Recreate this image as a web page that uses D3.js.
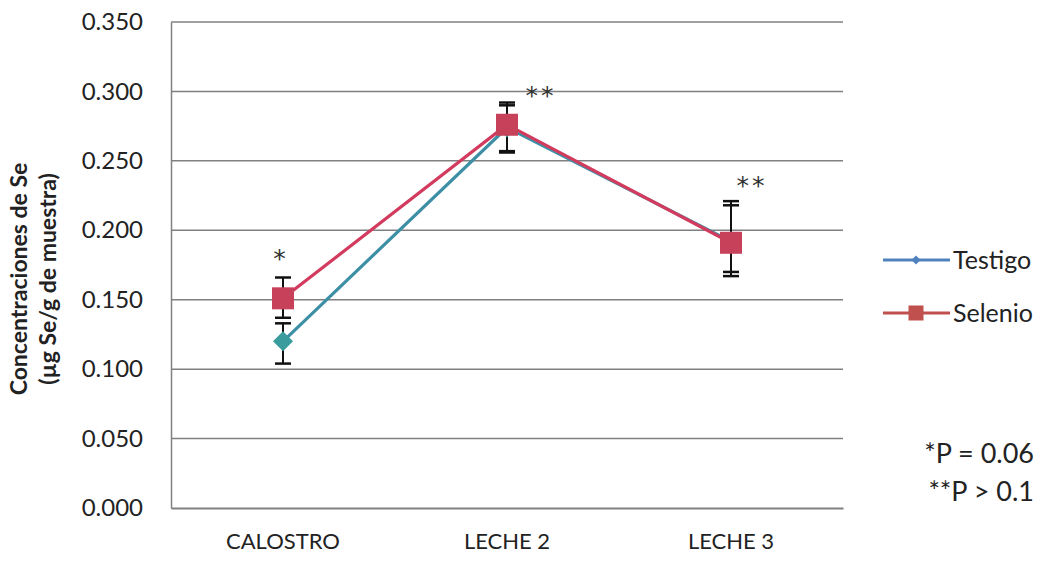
<!DOCTYPE html>
<html>
<head>
<meta charset="utf-8">
<script src="https://cdn.jsdelivr.net/npm/d3@7"></script>
<style>
  html, body { margin: 0; padding: 0; background: #fff; }
  svg { display: block; }
  text { font-family: Lato, "Open Sans", "Liberation Sans", sans-serif; fill: #222; }
</style>
</head>
<body>
<svg id="chart" width="1038" height="561"></svg>
<script>
// Selenium concentrations in milk samples (µg Se/g) by treatment group
const categories = ["CALOSTRO", "LECHE 2", "LECHE 3"];
const testigo = [0.120, 0.274, 0.192];
const testigoLow = [0.104, 0.257, 0.170];
const testigoHigh = [0.133, 0.290, 0.218];
const selenio = [0.151, 0.276, 0.191];
const selenioLow = [0.137, 0.256, 0.167];
const selenioHigh = [0.166, 0.292, 0.221];
const significance = ["*", "**", "**"];
const yTicks = [0, 0.05, 0.10, 0.15, 0.20, 0.25, 0.30, 0.35];
const legendLabels = ["Testigo", "Selenio"];
const notes = ["*P = 0.06", "**P > 0.1"];

const svg = d3.select("#chart");
const m = { left: 171, right: 843, top: 22, bottom: 508 };

const x = d3.scaleBand().domain(categories).range([m.left, m.right]);
const y = d3.scaleLinear().domain([0, 0.35]).range([m.bottom, m.top]);
const cx = d => x(d) + x.bandwidth() / 2;

// horizontal gridlines
svg.append("g")
  .selectAll("line").data(yTicks.filter(t => t > 0)).join("line")
  .attr("x1", m.left).attr("x2", m.right)
  .attr("y1", d => y(d)).attr("y2", d => y(d))
  .attr("stroke", "#808080").attr("stroke-width", 1.5);

// y axis
const yAxis = svg.append("g").attr("transform", `translate(${m.left},0)`)
  .call(d3.axisLeft(y).tickValues(yTicks).tickFormat(d3.format(".3f")).tickSize(0).tickPadding(28));
yAxis.select(".domain").attr("stroke", "#808080").attr("stroke-width", 1.5);
yAxis.selectAll("text").attr("font-size", 24).style("fill", "#222");

// x axis
const xAxis = svg.append("g").attr("transform", `translate(0,${m.bottom})`)
  .call(d3.axisBottom(x).tickSize(0).tickPadding(25));
xAxis.select(".domain").attr("stroke", "#808080").attr("stroke-width", 2);
xAxis.selectAll("text").attr("font-size", 22).style("fill", "#222");

// y axis title
const title = svg.append("text")
  .attr("transform", "translate(34,279) rotate(-90)")
  .attr("text-anchor", "middle")
  .attr("font-size", 23).attr("font-weight", "bold");
title.append("tspan").attr("x", 0).attr("dy", "-0.3em").text("Concentraciones de Se");
title.append("tspan").attr("x", 0).attr("dy", "1.25em").text("(µg Se/g de muestra)");

const series = [
  { name: legendLabels[0], values: testigo, low: testigoLow, high: testigoHigh, line: "#3d8fa6", marker: "#3a9c9c", legendLine: "#4f81bd", shape: "diamond" },
  { name: legendLabels[1], values: selenio, low: selenioLow, high: selenioHigh, line: "#d23b5e", marker: "#c8415a", legendLine: "#c0504d", shape: "square" }
];

const line = d3.line().x((d, i) => cx(categories[i])).y(d => y(d));

series.forEach(s => {
  svg.append("path").datum(s.values)
    .attr("d", line).attr("fill", "none")
    .attr("stroke", s.line).attr("stroke-width", 3.2);
});

// error bars
series.forEach(s => {
  const g = svg.append("g").attr("stroke", "#111").attr("stroke-width", 2);
  categories.forEach((c, i) => {
    const px = cx(c);
    g.append("line").attr("x1", px).attr("x2", px).attr("y1", y(s.low[i])).attr("y2", y(s.high[i]));
    [s.low[i], s.high[i]].forEach(v => {
      g.append("line").attr("x1", px - 8).attr("x2", px + 8).attr("y1", y(v)).attr("y2", y(v)).attr("stroke-width", 2.5);
    });
  });
});

function marker(g, shape, px, py, color, size) {
  if (shape === "square") {
    g.append("rect").attr("x", px - size / 2).attr("y", py - size / 2)
      .attr("width", size).attr("height", size).attr("fill", color);
  } else {
    const r = size / 2;
    g.append("path").attr("d", `M${px},${py - r}L${px + r},${py}L${px},${py + r}L${px - r},${py}Z`).attr("fill", color);
  }
}

series.forEach(s => {
  const g = svg.append("g");
  s.values.forEach((v, i) => marker(g, s.shape, cx(categories[i]), y(v), s.marker, s.shape === "square" ? 22 : 20));
});

// significance marks, placed above the highest error bar of each category
const sigOffset = [{ dx: -2, dy: -10 }, { dx: 34, dy: 1 }, { dx: 21, dy: -7 }];
svg.append("g").selectAll("text").data(significance).join("text")
  .attr("x", (d, i) => cx(categories[i]) + sigOffset[i].dx)
  .attr("y", (d, i) => y(Math.max(selenioHigh[i], testigoHigh[i])) + sigOffset[i].dy)
  .attr("text-anchor", "middle")
  .style("font-family", "'DejaVu Sans', sans-serif").style("fill", "#333")
  .attr("font-size", 25).attr("letter-spacing", 3)
  .text(d => d);

// legend
series.forEach((s, i) => {
  const ly = 260 + i * 53;
  svg.append("line").attr("x1", 883).attr("x2", 950).attr("y1", ly).attr("y2", ly)
    .attr("stroke", s.legendLine).attr("stroke-width", 3);
  const g = svg.append("g");
  marker(g, s.shape, 916, ly, s.legendLine, s.shape === "square" ? 15 : 9);
  svg.append("text").attr("x", 953).attr("y", ly + 9).attr("font-size", 25).text(s.name);
});

// p-value notes
svg.append("g").selectAll("text").data(notes).join("text")
  .attr("x", 1034).attr("y", (d, i) => 463 + i * 38)
  .attr("text-anchor", "end").attr("font-size", 27)
  .text(d => d);
</script>
</body>
</html>
